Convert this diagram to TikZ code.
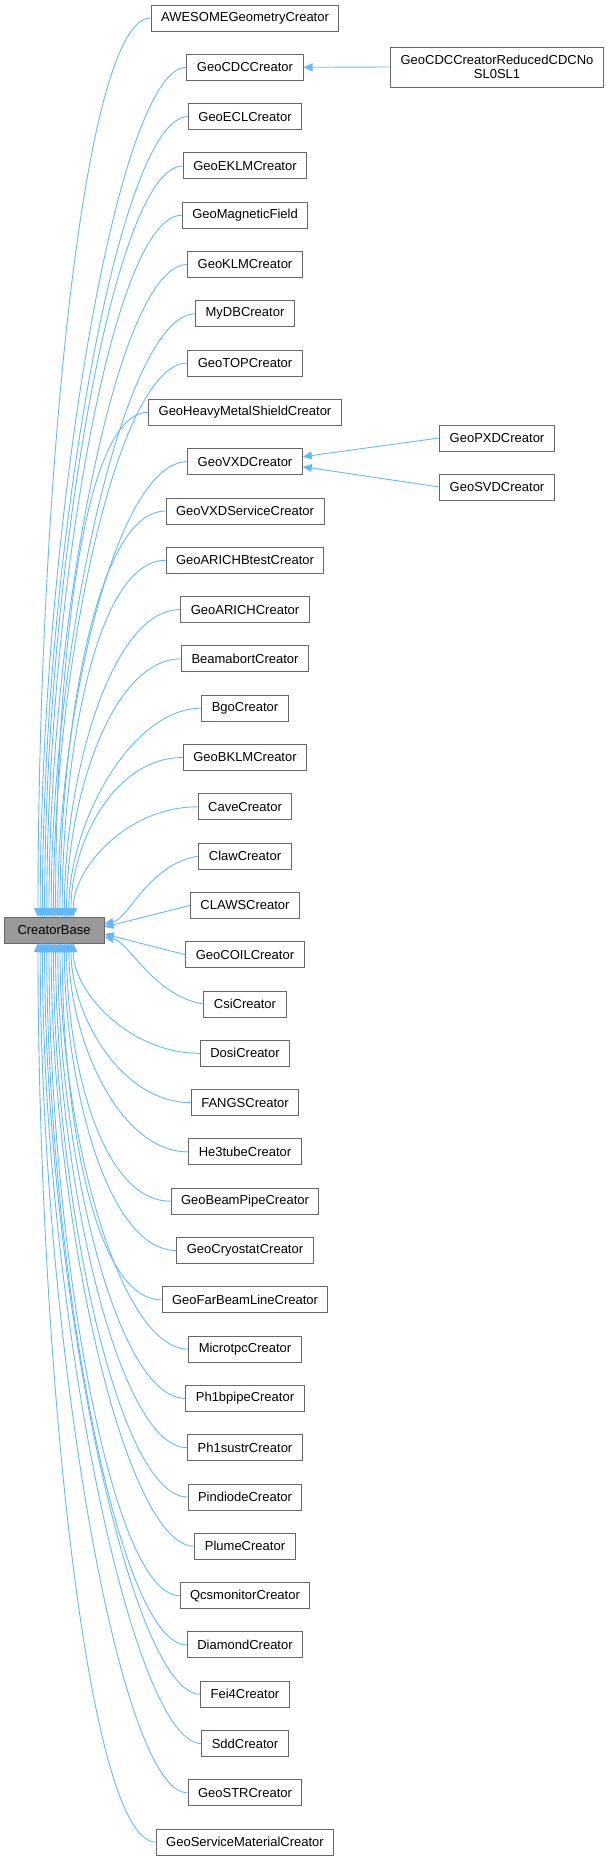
\documentclass[tikz,border=0pt]{standalone}
\usepackage{fontspec}
\setmainfont{Liberation Sans}
\usetikzlibrary{arrows.meta,calc}
\definecolor{edgeblue}{HTML}{63B8FF}
\definecolor{boxgrey}{HTML}{666666}
\definecolor{basefill}{HTML}{999999}
\tikzset{
  cls/.style={draw=boxgrey,line width=1pt,fill=white,minimum height=26pt,
    inner xsep=10pt,inner ysep=2pt,font=\fontsize{13}{14.5}\selectfont},
  inh/.style={draw=edgeblue,line width=0.9pt,-{Triangle[length=9pt,width=8pt]}},
}
\begin{document}
\begin{tikzpicture}[x=1pt,y=-1pt]
  \useasboundingbox (0,0) rectangle (611,1861);
  % base class
  \node[cls,fill=basefill,minimum width=100pt,inner xsep=2pt] (base) at (54,930) {CreatorBase};
  % derived classes, one per row
  \foreach \i/\name in {0/AWESOMEGeometryCreator,1/GeoCDCCreator,2/GeoECLCreator,
    3/GeoEKLMCreator,4/GeoMagneticField,5/GeoKLMCreator,6/MyDBCreator,7/GeoTOPCreator,
    8/GeoHeavyMetalShieldCreator,9/GeoVXDCreator,10/GeoVXDServiceCreator,
    11/GeoARICHBtestCreator,12/GeoARICHCreator,13/BeamabortCreator,14/BgoCreator,
    15/GeoBKLMCreator,16/CaveCreator,17/ClawCreator,18/CLAWSCreator,19/GeoCOILCreator,
    20/CsiCreator,21/DosiCreator,22/FANGSCreator,23/He3tubeCreator,24/GeoBeamPipeCreator,
    25/GeoCryostatCreator,26/GeoFarBeamLineCreator,27/MicrotpcCreator,28/Ph1bpipeCreator,
    29/Ph1sustrCreator,30/PindiodeCreator,31/PlumeCreator,32/QcsmonitorCreator,
    33/DiamondCreator,34/Fei4Creator,35/SddCreator,36/GeoSTRCreator,
    37/GeoServiceMaterialCreator}{
    \node[cls] (c\i) at (245,18+49.3*\i) {\name};
    \pgfmathsetmacro\cy{18+49.3*\i}
    \ifnum\i<17
      \pgfmathsetmacro\ex{38+\i*2.2}
      \pgfmathsetmacro\ky{917-0.45*(917-\cy)}
      \draw[inh] (c\i.west) .. controls ($(c\i.west)+(-70,0)$) and (\ex,\ky) .. (\ex,917);
    \else\ifnum\i>20
      \pgfmathsetmacro\ex{38+(37-\i)*2.2}
      \pgfmathsetmacro\ky{943+0.45*(\cy-943)}
      \draw[inh] (c\i.west) .. controls ($(c\i.west)+(-70,0)$) and (\ex,\ky) .. (\ex,943);
    \fi\fi
  }
  % rows next to the base
  \draw[inh] (c17.west) .. controls ($(c17.west)+(-50,8)$) and ($(base.east)+(25,-12)$) .. ($(base.east)+(0,-6)$);
  \draw[inh] (c18.west) -- ($(base.east)+(0,-3)$);
  \draw[inh] (c19.west) -- ($(base.east)+(0,4)$);
  \draw[inh] (c20.west) .. controls ($(c20.west)+(-50,-8)$) and ($(base.east)+(25,12)$) .. ($(base.east)+(0,7)$);
  % second level
  \node[cls,align=center,minimum height=40pt] (cdcred) at (497,67) {GeoCDCCreatorReducedCDCNo\\SL0SL1};
  \node[cls] (pxd) at (497,438) {GeoPXDCreator};
  \node[cls] (svd) at (497,487) {GeoSVDCreator};
  \draw[inh] (cdcred.west) -- (c1.east);
  \draw[inh] (pxd.west) -- ($(c9.east)+(0,-5)$);
  \draw[inh] (svd.west) -- ($(c9.east)+(0,5)$);
\end{tikzpicture}
\end{document}
